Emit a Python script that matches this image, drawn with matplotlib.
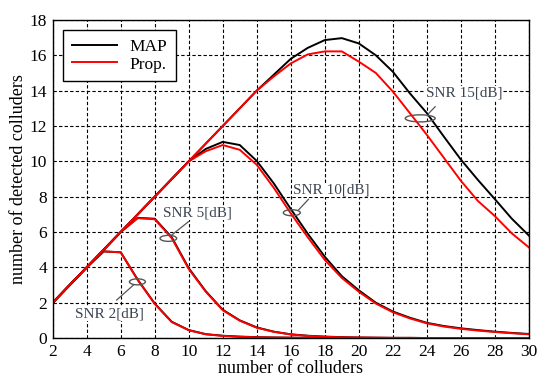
import numpy as np
import matplotlib
matplotlib.use("Agg")
import matplotlib.pyplot as plt
from matplotlib.patches import Ellipse
from matplotlib.lines import Line2D

plt.rcParams['font.family'] = ['Liberation Serif', 'DejaVu Serif']

# number of colluders
colluders = np.arange(2, 31)

# SNR 2 dB
snr2_map = [2, 3, 4, 4.9, 4.85, 3.3, 1.95, 0.92, 0.45, 0.22, 0.13, 0.08, 0.05, 0.03, 0.02,
            0.01, 0.01, 0, 0, 0, 0, 0, 0, 0, 0, 0, 0, 0, 0]
snr2_prop = [2, 3, 4, 4.9, 4.85, 3.28, 1.93, 0.9, 0.44, 0.21, 0.12, 0.07, 0.04, 0.03, 0.02,
             0.01, 0.01, 0, 0, 0, 0, 0, 0, 0, 0, 0, 0, 0, 0]
# SNR 5 dB
snr5_map = [2, 3, 4, 5, 6, 6.8, 6.75, 5.7, 3.95, 2.65, 1.6, 1.0, 0.6, 0.36, 0.21,
            0.13, 0.08, 0.05, 0.03, 0.02, 0.01, 0.01, 0, 0, 0, 0, 0, 0, 0]
snr5_prop = [2, 3, 4, 5, 6, 6.78, 6.72, 5.65, 3.9, 2.62, 1.57, 0.98, 0.58, 0.35, 0.2,
             0.12, 0.07, 0.04, 0.03, 0.02, 0.01, 0.01, 0, 0, 0, 0, 0, 0, 0]
# SNR 10 dB
snr10_map = [2, 3, 4, 5, 6, 7, 8, 9, 10, 10.7, 11.1, 10.92, 10.02, 8.75, 7.3,
             5.9, 4.6, 3.5, 2.7, 2.0, 1.5, 1.15, 0.86, 0.68, 0.55, 0.45, 0.36, 0.29, 0.23]
snr10_prop = [2, 3, 4, 5, 6, 7, 8, 9, 10, 10.57, 10.92, 10.65, 9.8, 8.5, 7.05,
              5.7, 4.42, 3.4, 2.62, 1.95, 1.46, 1.11, 0.83, 0.65, 0.52, 0.42, 0.34, 0.27, 0.21]
# SNR 15 dB
snr15_map = [2, 3, 4, 5, 6, 7, 8, 9, 10, 11, 12, 13, 14, 14.9, 15.8,
             16.42, 16.86, 16.97, 16.67, 16.0, 15.07, 13.85, 12.73, 11.4, 10.1, 8.95, 7.86, 6.75, 5.8]
snr15_prop = [2, 3, 4, 5, 6, 7, 8, 9, 10, 11, 12, 13, 14, 14.8, 15.54,
              16.05, 16.22, 16.22, 15.64, 15.0, 13.95, 12.73, 11.5, 10.2, 8.9, 7.76, 6.9, 5.92, 5.13]

# annotation: label, ellipse centre, ellipse size, leader start, leader end, text pos
notes = [
    ("SNR 2[dB]", (6.98, 3.18), (0.94, 0.34), (6.74, 2.99), (5.76, 2.15), (3.3, 1.36)),
    ("SNR 5[dB]", (8.80, 5.64), (0.98, 0.34), (9.0, 5.83), (9.98, 6.58), (8.49, 7.07)),
    ("SNR 10[dB]", (16.06, 7.09), (1.0, 0.34), (16.45, 7.24), (17.04, 7.85), (16.14, 8.37)),
    ("SNR 15[dB]", (23.61, 12.43), (1.76, 0.4), (24.1, 12.7), (24.49, 13.09), (23.96, 13.85)),
]

fig = plt.figure(figsize=(5.38, 3.76), dpi=100)
ax = fig.add_axes([0.098, 0.101, 0.885, 0.846])

for ym, yp in [(snr2_map, snr2_prop), (snr5_map, snr5_prop),
               (snr10_map, snr10_prop), (snr15_map, snr15_prop)]:
    ax.plot(colluders, ym, color='black', lw=1.4)
    ax.plot(colluders, yp, color='red', lw=1.4)

note_col = '#3c4452'
for label, c, wh, p0, p1, tp in notes:
    ax.add_patch(Ellipse(c, wh[0], wh[1], fill=False, edgecolor='#555555', lw=1.0, zorder=5))
    ax.plot([p0[0], p1[0]], [p0[1], p1[1]], color='#555555', lw=0.9, zorder=5)
    ax.text(tp[0], tp[1], label, color=note_col, fontsize=11, ha='left', va='center',
            bbox=dict(facecolor='white', edgecolor='none', pad=0.5), zorder=4)

ax.set_xlim(2, 30)
ax.set_ylim(0, 18)
ax.set_xticks(np.arange(2, 31, 2))
ax.set_yticks(np.arange(0, 19, 2))
ax.tick_params(direction='in', length=0, labelsize=12.5, pad=4)
ax.grid(True, color='black', linestyle=(0, (3, 2)), lw=0.8)
for s in ax.spines.values():
    s.set_linewidth(1.0)

ax.set_xlabel("number of colluders", fontsize=13, labelpad=0)
ax.set_ylabel("number of detected colluders", fontsize=13, labelpad=2)

handles = [Line2D([], [], color='black', lw=1.4), Line2D([], [], color='red', lw=1.4)]
leg = ax.legend(handles, ["MAP", "Prop."], loc='upper left', bbox_to_anchor=(0.022, 0.969),
                borderaxespad=0, fontsize=12.5, fancybox=False, framealpha=1,
                edgecolor='black', handlelength=2.6, borderpad=0.5, labelspacing=0.1,
                handletextpad=0.7)
leg.get_frame().set_linewidth(1.0)

fig.savefig("out.png", dpi=100)
